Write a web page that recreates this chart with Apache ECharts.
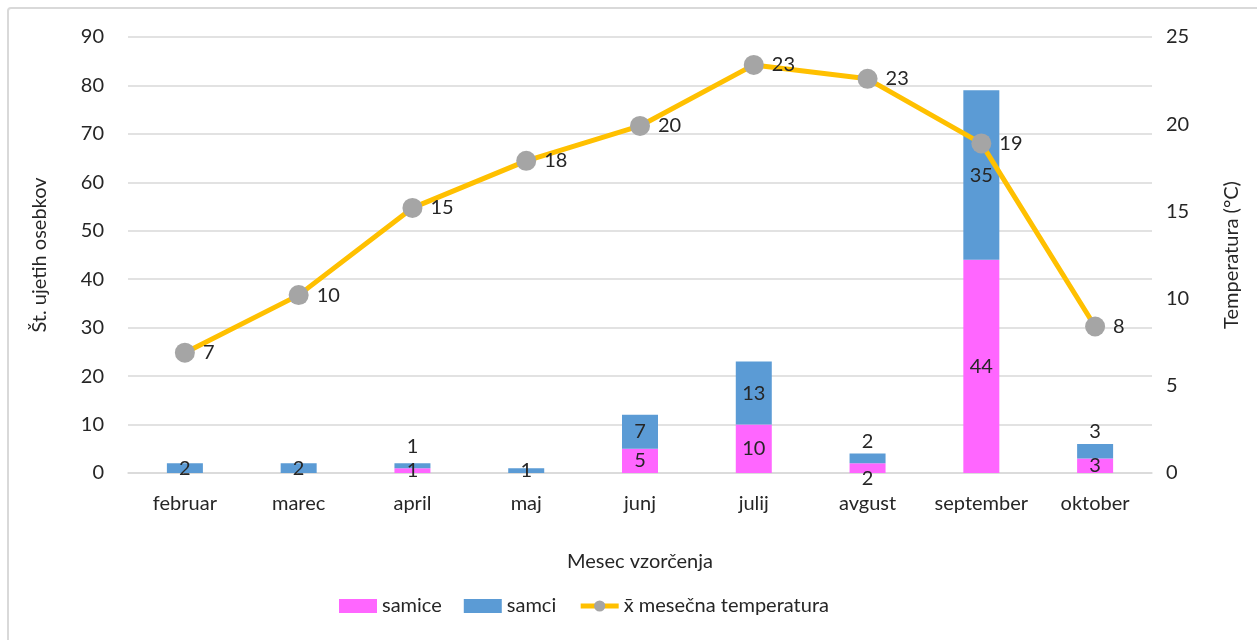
<!DOCTYPE html>
<html>
<head>
<meta charset="utf-8">
<script src="https://cdn.jsdelivr.net/npm/echarts@6/dist/echarts.min.js"></script>
<style>
  html, body { margin: 0; padding: 0; background: #fff; }
  #chart { width: 1257px; height: 640px; }
</style>
</head>
<body>
<div id="chart"></div>
<script>
// podatki
var meseci = ['februar', 'marec', 'april', 'maj', 'junj', 'julij', 'avgust', 'september', 'oktober'];
var samice = [0, 0, 1, 0, 5, 10, 2, 44, 3];
var samci = [2, 2, 1, 1, 7, 13, 2, 35, 3];
var temperatura = [6.9, 10.2, 15.2, 17.9, 19.9, 23.4, 22.6, 18.9, 8.4];
var leviTicki = [0, 10, 20, 30, 40, 50, 60, 70, 80, 90];
var desniTicki = [0, 5, 10, 15, 20, 25];

var FONT = 'Lato';
var TXT = '#262626';
var GRID = '#D9D9D9';

// kje stoji oznaka (kot v izvirniku)
var samiceLabel = { 2: { position: 'inside' }, 6: { position: 'bottom', distance: -4 }, 8: { position: 'inside' } };
var samciLabel = { 2: { position: 'top', distance: 7 }, 6: { position: 'top', distance: 2 }, 8: { position: 'top', distance: 2 } };

var samiceData = samice.map(function (v, i) {
    var lab = samiceLabel[i] || { position: 'inside' };
    return { value: v, label: { show: v > 0, position: lab.position, distance: lab.distance } };
});
var samciData = samci.map(function (v, i) {
    var lab = samciLabel[i] || { position: 'inside' };
    return { value: v, label: { show: true, position: lab.position, distance: lab.distance } };
});

var chart = echarts.init(document.getElementById('chart'));
var option = {
    textStyle: { fontFamily: FONT },
    animation: false,
    graphic: [{
        type: 'rect',
        shape: { x: 8, y: 8, width: 1270, height: 660, r: 3 },
        style: { fill: null, stroke: GRID, lineWidth: 2 },
        silent: true
    }],
    grid: { left: 128, right: 105, top: 37, bottom: 167 },
    legend: {
        bottom: 19,
        left: 334,
        itemWidth: 38,
        itemHeight: 14,
        itemGap: 22,
        textStyle: { fontFamily: FONT, fontSize: 20, color: TXT },
        data: [
            { name: 'samice', icon: 'rect' },
            { name: 'samci', icon: 'rect' },
            { name: 'x\u0304 mesečna temperatura', lineStyle: { width: 5, color: '#FFC000' } }
        ]
    },
    xAxis: {
        type: 'category',
        data: meseci,
        name: 'Mesec vzorčenja',
        nameLocation: 'middle',
        nameGap: 79,
        nameTextStyle: { fontFamily: FONT, fontSize: 20, color: TXT },
        axisTick: { show: false },
        axisLine: { lineStyle: { color: GRID, width: 1.5 } },
        axisLabel: { interval: 0, fontFamily: FONT, fontSize: 20, color: TXT, margin: 21 }
    },
    yAxis: [{
        type: 'value',
        min: leviTicki[0],
        max: leviTicki[leviTicki.length - 1],
        interval: 10,
        name: 'Št. ujetih osebkov',
        nameLocation: 'middle',
        nameGap: 78,
        nameTextStyle: { fontFamily: FONT, fontSize: 20, color: TXT },
        axisLabel: { fontFamily: FONT, fontSize: 20, color: TXT, margin: 24 },
        splitLine: { lineStyle: { color: GRID, width: 1.5 } },
        axisLine: { show: false },
        axisTick: { show: false }
    }, {
        type: 'value',
        min: desniTicki[0],
        max: desniTicki[desniTicki.length - 1],
        interval: 5,
        name: 'Temperatura (°C)',
        nameLocation: 'middle',
        nameGap: 70,
        nameTextStyle: { fontFamily: FONT, fontSize: 20, color: TXT },
        axisLabel: { fontFamily: FONT, fontSize: 20, color: TXT, margin: 14 },
        splitLine: { show: false },
        axisLine: { show: false },
        axisTick: { show: false }
    }],
    series: [{
        name: 'samice',
        type: 'bar',
        stack: 'osebki',
        barWidth: 36,
        itemStyle: { color: '#FF66FF' },
        label: { fontFamily: FONT, fontSize: 20, color: TXT },
        data: samiceData
    }, {
        name: 'samci',
        type: 'bar',
        stack: 'osebki',
        barWidth: 36,
        itemStyle: { color: '#5B9BD5' },
        label: { fontFamily: FONT, fontSize: 20, color: TXT },
        data: samciData
    }, {
        name: 'x\u0304 mesečna temperatura',
        type: 'line',
        yAxisIndex: 1,
        symbol: 'circle',
        symbolSize: 20,
        lineStyle: { color: '#FFC000', width: 5 },
        itemStyle: { color: '#A5A5A5' },
        label: {
            show: true,
            position: 'right',
            distance: 8,
            fontFamily: FONT,
            fontSize: 20,
            color: TXT,
            formatter: function (p) { return Math.round(p.value); }
        },
        data: temperatura
    }]
};
chart.setOption(option);
</script>
</body>
</html>
